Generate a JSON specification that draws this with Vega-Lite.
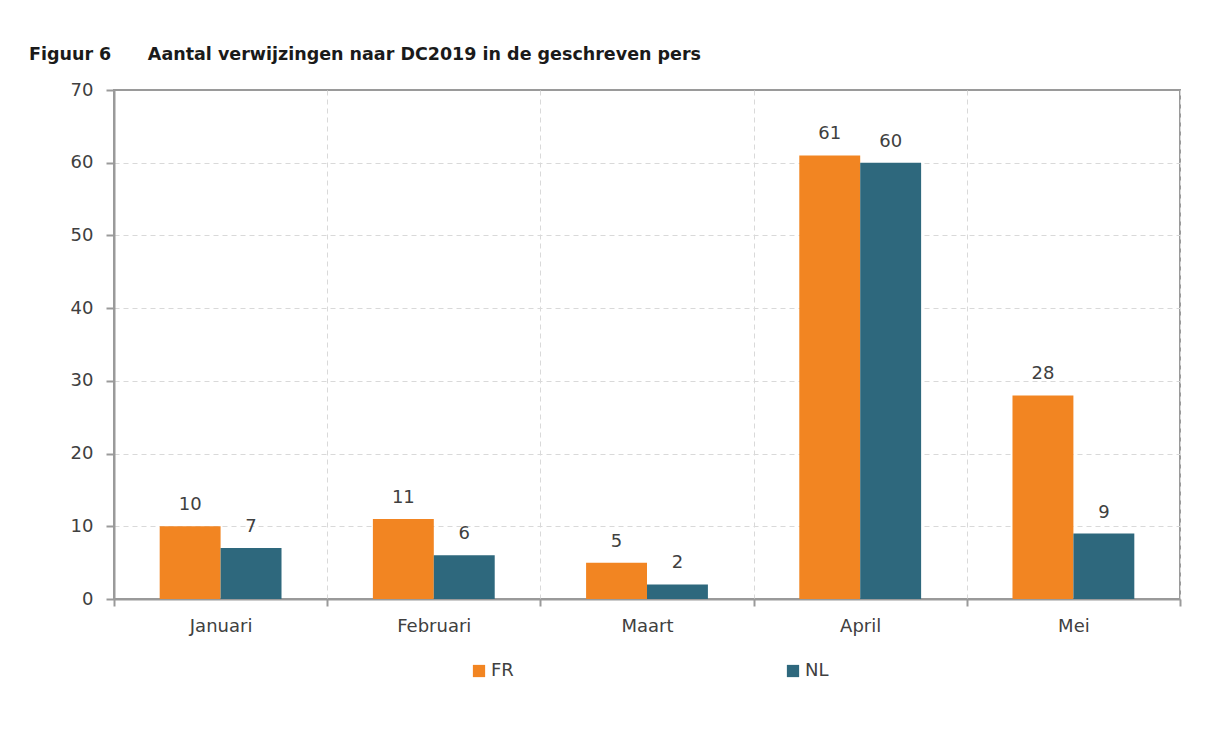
{
  "$schema": "https://vega.github.io/schema/vega-lite/v6.json",
  "autosize": {"type": "none"},
  "width": 1066,
  "height": 509,
  "padding": {"left": 114, "top": 90, "right": 31, "bottom": 152},
  "background": "white",
  "title": {
    "text": "Figuur 6\u00a0\u00a0\u00a0\u00a0\u00a0\u00a0Aantal verwijzingen naar DC2019 in de geschreven pers",
    "anchor": "start",
    "frame": "group",
    "orient": "top",
    "baseline": "alphabetic",
    "offset": 4,
    "dx": -85,
    "font": "DejaVu Sans",
    "fontSize": 17.5,
    "fontWeight": "bold",
    "color": "#1a1a1a"
  },
  "data": {
    "values": [
      {"maand": "Januari", "taal": "FR", "aantal": 10},
      {"maand": "Januari", "taal": "NL", "aantal": 7},
      {"maand": "Februari", "taal": "FR", "aantal": 11},
      {"maand": "Februari", "taal": "NL", "aantal": 6},
      {"maand": "Maart", "taal": "FR", "aantal": 5},
      {"maand": "Maart", "taal": "NL", "aantal": 2},
      {"maand": "April", "taal": "FR", "aantal": 61},
      {"maand": "April", "taal": "NL", "aantal": 60},
      {"maand": "Mei", "taal": "FR", "aantal": 28},
      {"maand": "Mei", "taal": "NL", "aantal": 9}
    ]
  },
  "encoding": {
    "x": {
      "field": "maand",
      "type": "nominal",
      "sort": ["Januari", "Februari", "Maart", "April", "Mei"],
      "scale": {"paddingInner": 0, "paddingOuter": 0},
      "axis": {
        "title": null,
        "labelAngle": 0,
        "tickBand": "extent",
        "grid": true,
        "gridDash": [5, 4],
        "gridColor": {"condition": {"test": "datum.extra", "value": "transparent"}, "value": "#d9d9d9"},
        "gridWidth": 1,
        "domainColor": "#9a9a9a",
        "domainWidth": 2,
        "tickColor": "#9a9a9a",
        "tickWidth": 2,
        "tickSize": 7,
        "labelPadding": 11,
        "labelFont": "DejaVu Sans",
        "labelFontSize": 18,
        "labelColor": "#404040"
      }
    },
    "xOffset": {
      "field": "taal",
      "type": "nominal",
      "scale": {"paddingInner": 0, "paddingOuter": 0.75}
    },
    "y": {
      "field": "aantal",
      "type": "quantitative",
      "scale": {"domain": [0, 70], "nice": false},
      "axis": {
        "title": null,
        "values": [0, 10, 20, 30, 40, 50, 60, 70],
        "grid": true,
        "gridDash": [5, 4],
        "gridColor": {"condition": {"test": "datum.value === 70", "value": "transparent"}, "value": "#d9d9d9"},
        "gridWidth": 1,
        "domainColor": "#9a9a9a",
        "domainWidth": 2,
        "tickColor": "#9a9a9a",
        "tickWidth": 2,
        "tickSize": 8,
        "labelPadding": 13,
        "labelFont": "DejaVu Sans",
        "labelFontSize": 18,
        "labelColor": "#404040"
      }
    }
  },
  "layer": [
    {
      "mark": {"type": "bar"},
      "encoding": {
        "color": {
          "field": "taal",
          "type": "nominal",
          "scale": {"domain": ["FR", "NL"], "range": ["#F28522", "#2E687D"]},
          "legend": {
            "title": null,
            "orient": "none",
            "direction": "horizontal",
            "legendX": 356,
            "legendY": 572,
            "columnPadding": 270,
            "symbolType": "square",
            "symbolSize": 150,
            "symbolStrokeWidth": 0,
            "labelFont": "DejaVu Sans",
            "labelFontSize": 18,
            "labelColor": "#404040",
            "labelOffset": 3
          }
        }
      }
    },
    {
      "mark": {
        "type": "text",
        "baseline": "bottom",
        "dy": -12,
        "font": "DejaVu Sans",
        "fontSize": 18,
        "color": "#404040"
      },
      "encoding": {
        "text": {"field": "aantal", "type": "quantitative"}
      }
    }
  ],
  "config": {
    "view": {"stroke": "#9a9a9a", "strokeWidth": 2}
  }
}
